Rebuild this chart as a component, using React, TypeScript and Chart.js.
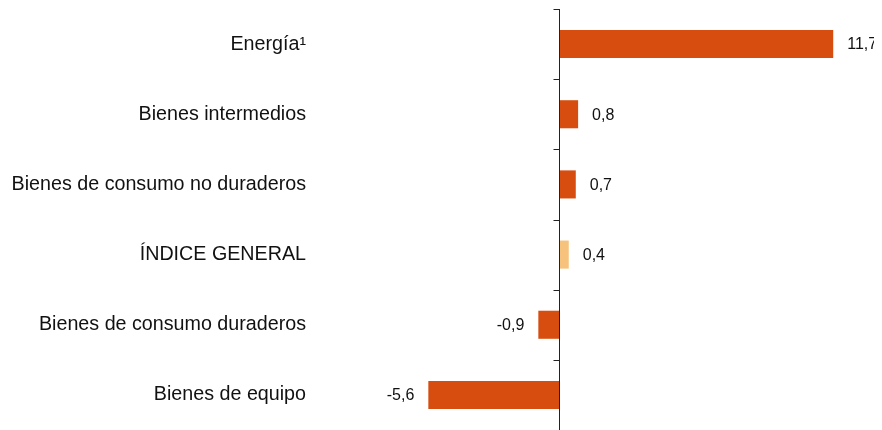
import React, { useEffect, useRef } from "react";
import { Chart, registerables } from "chart.js";

Chart.register(...registerables);

const categories = [
  "Energía¹",
  "Bienes intermedios",
  "Bienes de consumo no duraderos",
  "ÍNDICE GENERAL",
  "Bienes de consumo duraderos",
  "Bienes de equipo",
];
const values = [11.7, 0.8, 0.7, 0.4, -0.9, -5.6];
const highlightIndex = 3;

const DARK = "#D64D0F";
const LIGHT = "#F6C27C";
const FONT = "'Liberation Sans', Arial, sans-serif";

const fmt = (v: number) => v.toFixed(1).replace(".", ",");

const zeroAxisPlugin = {
  id: "zeroAxis",
  afterDatasetsDraw(chart: any) {
    const { ctx, chartArea, scales } = chart;
    const x0 = Math.round(scales.x.getPixelForValue(0)) + 0.5;
    ctx.save();
    ctx.strokeStyle = "#222";
    ctx.lineWidth = 1;
    ctx.beginPath();
    ctx.moveTo(x0, chartArea.top);
    ctx.lineTo(x0, chartArea.bottom);
    const n = categories.length;
    const step = (chartArea.bottom - chartArea.top) / n;
    for (let i = 0; i <= n; i++) {
      const y = Math.round(chartArea.top + i * step) + 0.5;
      ctx.moveTo(x0 - 6, y);
      ctx.lineTo(x0, y);
    }
    ctx.stroke();
    // value labels
    ctx.fillStyle = "#111";
    ctx.font = `16px ${FONT}`;
    ctx.textBaseline = "middle";
    const meta = chart.getDatasetMeta(0);
    meta.data.forEach((bar: any, i: number) => {
      const v = values[i];
      if (v >= 0) {
        ctx.textAlign = "left";
        ctx.fillText(fmt(v), bar.x + 14, bar.y + 1);
      } else {
        ctx.textAlign = "right";
        ctx.fillText(fmt(v), bar.x - 14, bar.y + 1);
      }
    });
    ctx.restore();
  },
};

export default function App() {
  const ref = useRef<HTMLCanvasElement>(null);
  useEffect(() => {
    if (!ref.current) return;
    const chart = new Chart(ref.current, {
      type: "bar",
      data: {
        labels: categories,
        datasets: [
          {
            data: values,
            backgroundColor: values.map((_, i) => (i === highlightIndex ? LIGHT : DARK)),
            barPercentage: 0.4,
            categoryPercentage: 1,
          },
        ],
      },
      options: {
        indexAxis: "y",
        animation: false,
        responsive: false,
        maintainAspectRatio: false,
        layout: { padding: { top: 1, bottom: 0, left: 0, right: 9 } },
        plugins: { legend: { display: false }, tooltip: { enabled: false } },
        scales: {
          x: { display: false, min: -10.4, max: 13.4 },
          y: {
            grid: { display: false, drawTicks: false },
            border: { display: false },
            ticks: {
              padding: 10,
              color: "#111",
              font: { family: FONT, size: 19.7 },
            },
            afterFit: (s: any) => {
              s.width = 308;
              s.paddingTop = 0;
              s.paddingBottom = 0;
            },
          },
        },
      },
      plugins: [zeroAxisPlugin],
    });
    return () => chart.destroy();
  }, []);
  return (
    <div style={{ width: 874, height: 422 }}>
      <canvas ref={ref} width={874} height={422} style={{ display: "block" }} />
    </div>
  );
}
